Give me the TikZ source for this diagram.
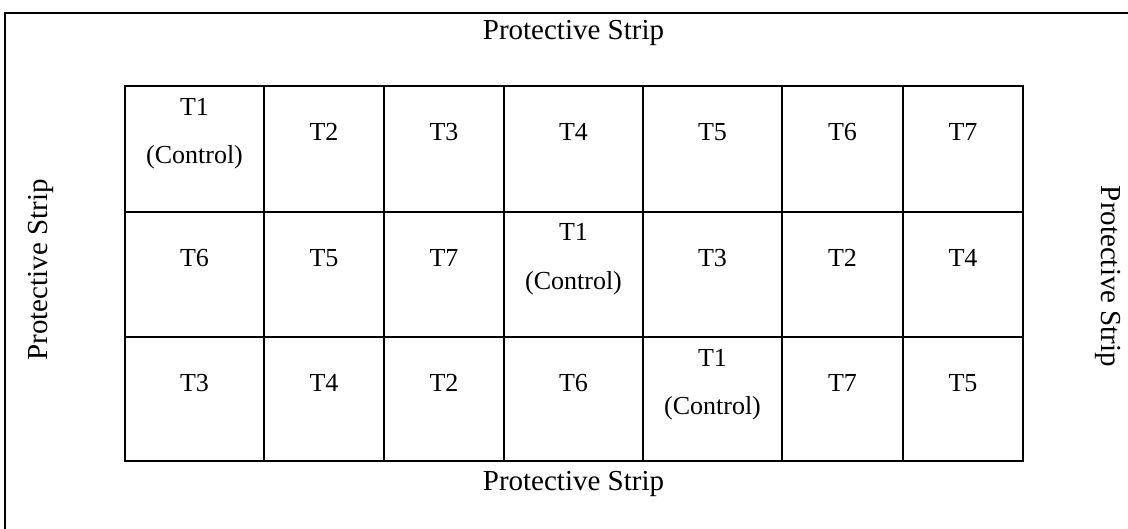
\documentclass[tikz,border=0pt]{standalone}
\usepackage{fontspec}
\setmainfont{Liberation Serif}
\begin{document}
\begin{tikzpicture}[x=0.5pt,y=-0.5pt,
  frame/.style={line width=1pt},
  gridout/.style={line width=0.9pt},
  gridin/.style={line width=0.6pt},
  celltxt/.style={font=\fontsize{13}{15}\selectfont, anchor=base, inner sep=0pt},
  striplabel/.style={font=\fontsize{14.5}{17}\selectfont, anchor=base, inner sep=0pt}]
\useasboundingbox (0,0) rectangle (1128,529);
% outer frame (only top and left edges visible)
\coordinate (ftl) at (5,13);
\coordinate (ftr) at (1130,13);
\coordinate (fbl) at (5,531);
\draw[frame] (ftr) -- (ftl) -- (fbl);
% grid
\coordinate (g00) at (125,86);
\coordinate (g11) at (1023,461);
\foreach \x in {264,384,504,643,782,903} {
  \draw[gridin] (\x,86) -- (\x,461);
}
\foreach \y in {212,337} {
  \draw[gridin] (125,\y) -- (1023,\y);
}
\draw[gridout] (g00) rectangle (g11);
% column centres
\def\ca{194.5}\def\cb{324}\def\cc{444}\def\cd{573.5}\def\ce{712.5}\def\cf{842.5}\def\cg{963}
% row 1 (top 86)
\node[celltxt] (r1a) at (\ca,116) {T1};
\node[celltxt] (r1a2) at (\ca,164) {(Control)};
\node[celltxt] (r1b) at (\cb,141) {T2};
\node[celltxt] (r1c) at (\cc,141) {T3};
\node[celltxt] (r1d) at (\cd,141) {T4};
\node[celltxt] (r1e) at (\ce,141) {T5};
\node[celltxt] (r1f) at (\cf,141) {T6};
\node[celltxt] (r1g) at (\cg,141) {T7};
% row 2 (top 212)
\node[celltxt] (r2a) at (\ca,266) {T6};
\node[celltxt] (r2b) at (\cb,266) {T5};
\node[celltxt] (r2c) at (\cc,266) {T7};
\node[celltxt] (r2d) at (\cd,241) {T1};
\node[celltxt] (r2d2) at (\cd,289) {(Control)};
\node[celltxt] (r2e) at (\ce,266) {T3};
\node[celltxt] (r2f) at (\cf,266) {T2};
\node[celltxt] (r2g) at (\cg,266) {T4};
% row 3 (top 337)
\node[celltxt] (r3a) at (\ca,391) {T3};
\node[celltxt] (r3b) at (\cb,391) {T4};
\node[celltxt] (r3c) at (\cc,391) {T2};
\node[celltxt] (r3d) at (\cd,391) {T6};
\node[celltxt] (r3e) at (\ce,366) {T1};
\node[celltxt] (r3e2) at (\ce,414) {(Control)};
\node[celltxt] (r3f) at (\cf,391) {T7};
\node[celltxt] (r3g) at (\cg,391) {T5};
% protective strip labels
\node[striplabel] (top) at (573.5,39.5) {Protective Strip};
\node[striplabel] (bottom) at (573.5,490) {Protective Strip};
\node[striplabel, rotate=90] (left) at (47,270) {Protective Strip};
\node[striplabel, rotate=-90] (right) at (1101,276.5) {Protective Strip};
\end{tikzpicture}
\end{document}
